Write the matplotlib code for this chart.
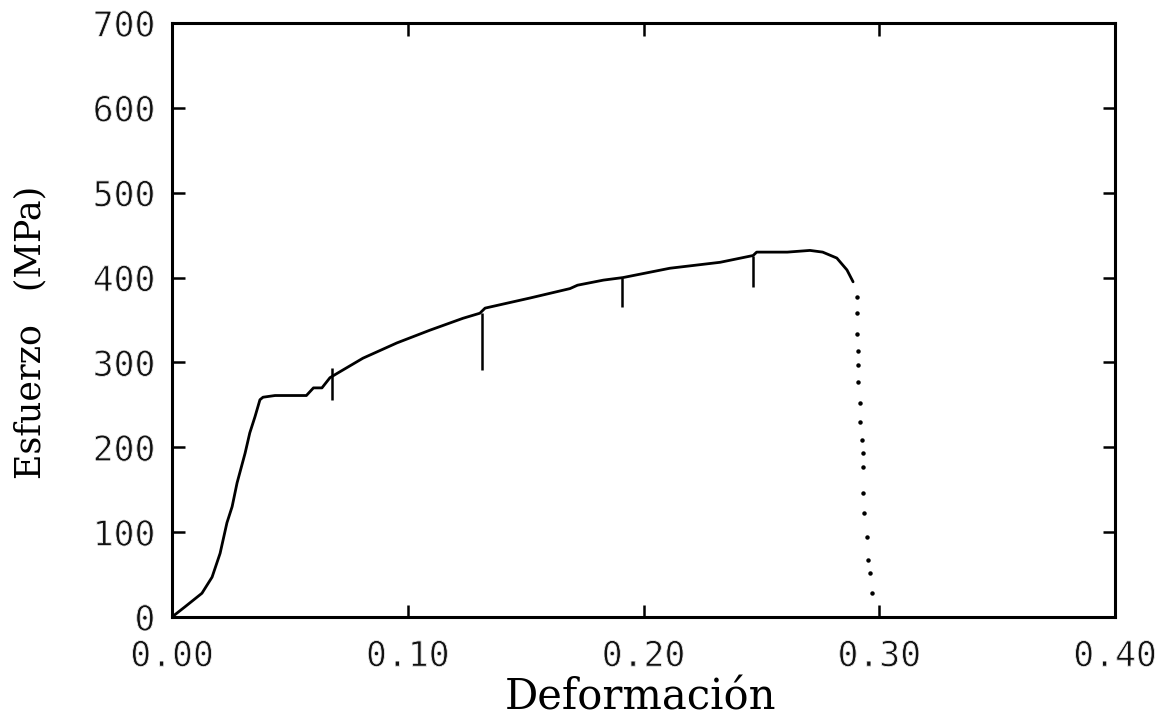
import matplotlib
matplotlib.use("Agg")
import matplotlib.pyplot as plt
import matplotlib.patheffects as pe

# ---- data ----
strain = [0.0, 0.0055, 0.0127, 0.017, 0.0204, 0.0233, 0.0255, 0.0276, 0.031, 0.033,
          0.0352, 0.0373, 0.0386, 0.0437, 0.048, 0.057, 0.060, 0.0636, 0.067, 0.070,
          0.081, 0.0954, 0.1094, 0.1234, 0.1306, 0.1328, 0.152, 0.1688, 0.172, 0.183,
          0.1913, 0.2112, 0.2325, 0.2465, 0.248, 0.261, 0.2706, 0.276, 0.282, 0.2863,
          0.2889]
stress = [0, 12, 28, 47, 75, 111, 130, 158, 193, 217,
          236, 256, 259, 261, 261, 261, 270, 270, 282, 287,
          305, 323, 338, 352, 358, 364, 376, 387, 391, 397,
          400, 411, 418, 426, 430, 430, 432, 430, 423, 409,
          395]

# fracture (falling) portion, recorded as separate points
drop_strain = [0.2905, 0.2905, 0.2905, 0.291, 0.291, 0.291, 0.292, 0.292, 0.2927,
               0.293, 0.293, 0.293, 0.2935, 0.2948, 0.2952, 0.296, 0.297]
drop_stress = [377, 358, 334, 314, 297, 277, 252, 230, 208,
               193, 177, 146, 122, 94, 67, 52, 28]

# vertical unloading spikes: strain, top, bottom
spike_x = [0.068, 0.1315, 0.191, 0.2465]
spike_top = [293, 358, 400, 426]
spike_bot = [256, 291, 365, 389]

xticks = [0.0, 0.1, 0.2, 0.3, 0.4]
xticklabels = ["0.00", "0.10", "0.20", "0.30", "0.40"]
yticks = [0, 100, 200, 300, 400, 500, 600, 700]
yticklabels = ["0", "100", "200", "300", "400", "500", "600", "700"]

# ---- figure ----
fig = plt.figure(figsize=(11.59, 7.17), dpi=100)
ax = fig.add_axes([172 / 1159, 100 / 717, (1115 - 172) / 1159, (617 - 23) / 717])

ax.plot(strain, stress, color="black", lw=2.0, solid_capstyle="round",
        solid_joinstyle="round")
ax.plot(drop_strain, drop_stress, linestyle="none", marker="o", ms=2.2, color="black")
ax.vlines(spike_x, spike_bot, spike_top, color="black", lw=1.8)

ax.set_xlim(0, 0.4)
ax.set_ylim(0, 700)
ax.set_xticks(xticks)
ax.set_xticklabels(xticklabels)
ax.set_yticks(yticks)
ax.set_yticklabels(yticklabels)

for s in ax.spines.values():
    s.set_linewidth(2.2)
ax.tick_params(direction="in", length=9, width=1.8, top=True, right=True,
               labelsize=25)
ax.tick_params(axis="y", pad=12)
ax.tick_params(axis="x", pad=16)
thin = [pe.Normal(), pe.Stroke(linewidth=0.6, foreground="white")]
for lab in ax.get_xticklabels() + ax.get_yticklabels():
    lab.set_fontfamily("DejaVu Sans Mono")
    lab.set_color("#111111")
    lab.set_path_effects(thin)

ax.set_xlabel("Deformación", fontsize=30, family="DejaVu Serif")
ax.xaxis.set_label_coords(0.497, -0.1)
ax.set_ylabel("Esfuerzo   (MPa)", fontsize=25, family="DejaVu Serif")
ax.yaxis.set_label_coords(-0.132, 0.48)

fig.savefig("out.png", dpi=100)
